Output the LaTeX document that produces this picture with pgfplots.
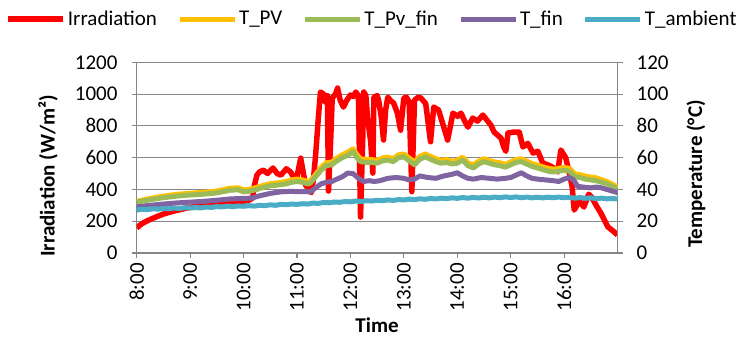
\documentclass[border=0pt]{standalone}
\usepackage{pgfplots}
\pgfplotsset{compat=1.18}
\usepackage{fontspec}
\setmainfont{Carlito}
\definecolor{cRed}{HTML}{FF0000}
\definecolor{cYel}{HTML}{FFC000}
\definecolor{cGrn}{HTML}{9BBB59}
\definecolor{cPur}{HTML}{8064A2}
\definecolor{cBlu}{HTML}{4BACC6}
\definecolor{gridgray}{HTML}{868686}
\newcommand\cf{\fontsize{21bp}{25bp}\selectfont}
\pgfplotsset{
  common/.style={
    scale only axis, width=480.8bp, height=190.7bp,
    xmin=8, xmax=17,
    axis line style={gridgray, line width=1.1bp},
    tick style={gridgray, line width=1.1bp},
    tick align=outside, major tick length=5bp,
    /pgf/number format/assume math mode=true,
    /pgf/number format/set thousands separator={},
    tick label style={font=\cf, text=black},
  }
}
\begin{document}
\begin{tikzpicture}
\useasboundingbox (-136.7bp,-84bp) rectangle (600.3bp,253bp);
\begin{axis}[common,
  axis y line*=left, axis x line*=bottom,
  ymin=0, ymax=1200, ytick={0,200,...,1200},
  ymajorgrids, grid style={gridgray, line width=1.1bp},
  xtick={8,9,...,16},
  xticklabels={8:00,9:00,10:00,11:00,12:00,13:00,14:00,15:00,16:00},
  xticklabel style={rotate=90, anchor=east, inner sep=0bp, xshift=-5bp},
  yticklabel style={anchor=east, inner sep=0bp, xshift=-14bp},
  xlabel={Time},
  every axis x label/.style={at={(axis description cs:0.5,-0.378)}, anchor=center, font=\cf\bfseries},
  ylabel={Irradiation (W/m²)},
  every axis y label/.style={at={(axis description cs:-0.1845,0.404)}, rotate=90, anchor=center, font=\cf\bfseries},
]
\addplot[cRed, line width=5.5bp, line join=round] coordinates {
(8.00,157)(8.05,172)(8.10,185)(8.20,203)(8.30,218)(8.40,232)(8.50,245)(8.60,255)(8.70,264)(8.80,272)(8.90,280)(9.00,287)(9.15,294)(9.30,300)(9.45,306)(9.60,312)(9.75,318)(9.90,322)(10.00,326)(10.10,332)(10.17,345)(10.20,420)(10.25,490)(10.30,510)(10.37,522)(10.45,500)(10.55,535)(10.63,500)(10.70,490)(10.80,530)(10.88,510)(10.95,470)(11.00,480)(11.07,597)(11.16,428)(11.22,400)(11.27,380)(11.31,470)(11.35,620)(11.40,850)(11.44,1013)(11.50,1000)(11.53,950)(11.57,990)(11.59,390)(11.63,700)(11.66,975)(11.72,1000)(11.76,1038)(11.81,960)(11.87,918)(11.93,960)(12.00,994)(12.06,985)(12.10,1013)(12.15,990)(12.19,226)(12.23,700)(12.25,1013)(12.29,990)(12.32,855)(12.38,700)(12.42,503)(12.44,981)(12.50,990)(12.53,960)(12.58,850)(12.62,711)(12.66,900)(12.70,980)(12.75,960)(12.81,943)(12.88,880)(12.94,773)(13.00,975)(13.05,980)(13.10,950)(13.15,386)(13.20,962)(13.27,980)(13.32,975)(13.41,940)(13.50,700)(13.56,918)(13.65,900)(13.75,790)(13.82,711)(13.92,880)(14.01,860)(14.07,880)(14.14,830)(14.20,792)(14.29,849)(14.38,830)(14.48,868)(14.57,830)(14.63,805)(14.69,761)(14.82,723)(14.87,667)(14.91,640)(14.95,755)(15.06,761)(15.16,761)(15.23,667)(15.32,690)(15.42,629)(15.51,640)(15.60,566)(15.71,553)(15.81,535)(15.88,510)(15.94,648)(16.03,600)(16.10,500)(16.15,420)(16.19,270)(16.24,300)(16.28,333)(16.37,289)(16.46,370)(16.52,350)(16.60,300)(16.69,250)(16.82,164)(16.94,132)(17.00,113)
};
\end{axis}
\begin{axis}[common,
  axis y line*=right, axis x line=none,
  ymin=0, ymax=120, ytick={0,20,...,120},
  yticklabel style={anchor=west, inner sep=0bp, xshift=14bp},
  ylabel={Temperature (°C)},
  every axis y label/.style={at={(axis description cs:1.163,0.414)}, rotate=90, anchor=center, font=\cf\bfseries},
  legend columns=-1,
  legend style={at={(axis description cs:0.4894,1.227)}, anchor=center, draw=none, fill=none,
    font=\cf, /tikz/every even column/.append style={column sep=18bp},
    nodes={inner sep=2bp}},
  legend image code/.code={\draw[#1] (0bp,0bp) -- (55bp,0bp);},
]
\addlegendimage{cRed, line width=5.5bp}
\addlegendentry{Irradiation}
\addplot[cYel, line width=5bp, line join=round] coordinates {
(8.00,32.5)(8.25,34.3)(8.5,35.8)(8.75,36.9)(9.0,37.6)(9.25,38.2)(9.5,39.0)(9.75,40.8)(9.9,41.0)(10.0,39.8)(10.1,40.0)(10.25,41.3)(10.4,42.8)(10.5,43.6)(10.65,44.2)(10.8,45.0)(10.9,46.0)(11.0,46.5)(11.1,46.0)(11.2,45.0)(11.25,45.5)(11.35,49.5)(11.45,53.8)(11.55,56.8)(11.65,57.2)(11.75,59.8)(11.85,61.8)(11.95,63.5)(12.05,65.5)(12.12,62.0)(12.19,59.3)(12.3,58.8)(12.4,58.8)(12.5,58.3)(12.6,59.8)(12.7,60.3)(12.8,59.3)(12.9,61.8)(13.0,62.3)(13.1,59.8)(13.2,57.3)(13.3,60.8)(13.4,62.3)(13.5,60.8)(13.6,59.3)(13.7,58.3)(13.8,58.8)(13.9,57.8)(14.0,58.3)(14.1,60.3)(14.2,56.8)(14.3,55.3)(14.4,57.8)(14.5,59.3)(14.6,58.3)(14.7,57.3)(14.8,56.8)(14.9,55.8)(15.0,57.3)(15.1,58.8)(15.2,59.3)(15.3,57.8)(15.4,56.3)(15.5,55.3)(15.6,54.3)(15.7,53.3)(15.8,52.8)(15.9,53.3)(16.0,53.8)(16.1,53.3)(16.2,49.8)(16.3,49.3)(16.4,48.3)(16.5,47.8)(16.6,47.3)(16.7,46.2)(16.8,45.0)(16.9,43.3)(17.0,41.5)
};
\addlegendentry{T\_PV}
\addplot[cGrn, line width=5bp, line join=round] coordinates {
(8.00,32.0)(8.25,33.5)(8.5,34.8)(8.75,35.8)(9.0,36.5)(9.25,37.0)(9.5,37.8)(9.75,39.5)(9.9,39.8)(10.0,38.5)(10.1,38.8)(10.25,40.0)(10.4,41.5)(10.5,42.3)(10.65,42.8)(10.8,43.5)(10.9,44.5)(11.0,45.0)(11.1,44.5)(11.2,43.5)(11.25,44.0)(11.35,48.0)(11.45,52.0)(11.55,55.0)(11.65,55.5)(11.75,58.0)(11.85,60.0)(11.95,61.5)(12.05,63.7)(12.12,60.0)(12.19,57.5)(12.3,57.0)(12.4,57.0)(12.5,56.5)(12.6,58.0)(12.7,58.5)(12.8,57.5)(12.9,60.0)(13.0,60.5)(13.1,58.0)(13.2,55.5)(13.3,59.0)(13.4,60.5)(13.5,59.0)(13.6,57.5)(13.7,56.5)(13.8,57.0)(13.9,56.0)(14.0,56.5)(14.1,58.5)(14.2,55.0)(14.3,53.5)(14.4,56.0)(14.5,57.5)(14.6,56.5)(14.7,55.5)(14.8,55.0)(14.9,54.0)(15.0,55.5)(15.1,57.0)(15.2,57.5)(15.3,56.0)(15.4,54.5)(15.5,53.5)(15.6,52.5)(15.7,51.5)(15.8,51.0)(15.9,51.5)(16.0,52.0)(16.1,51.5)(16.2,48.0)(16.3,47.5)(16.4,46.5)(16.5,46.0)(16.6,45.5)(16.7,44.5)(16.8,43.5)(16.9,42.0)(17.0,40.5)
};
\addlegendentry{T\_Pv\_fin}
\addplot[cPur, line width=5bp, line join=round] coordinates {
(8.0,29.0)(8.25,30.0)(8.5,30.8)(8.75,31.5)(9.0,32.0)(9.25,32.5)(9.5,33.2)(9.75,34.0)(10.0,34.4)(10.15,34.5)(10.3,36.0)(10.5,37.5)(10.7,38.5)(10.9,38.8)(11.0,38.6)(11.15,38.6)(11.25,38.5)(11.35,41.0)(11.45,43.5)(11.55,44.5)(11.65,45.0)(11.75,46.5)(11.85,48.0)(11.95,50.3)(12.05,50.0)(12.15,47.0)(12.25,45.0)(12.35,45.5)(12.45,45.0)(12.55,45.5)(12.7,47.0)(12.85,47.5)(13.0,47.0)(13.1,46.0)(13.2,46.5)(13.3,48.5)(13.45,47.5)(13.6,47.0)(13.75,48.5)(13.9,49.5)(14.0,50.5)(14.1,48.5)(14.2,47.0)(14.3,46.5)(14.45,47.5)(14.6,47.0)(14.75,46.5)(14.9,47.0)(15.0,47.5)(15.1,49.0)(15.2,50.5)(15.3,48.5)(15.4,47.0)(15.5,46.5)(15.65,46.0)(15.8,45.5)(15.9,45.0)(16.0,46.5)(16.1,47.5)(16.18,46.0)(16.25,42.0)(16.35,41.5)(16.5,41.0)(16.6,41.5)(16.7,41.0)(16.8,40.0)(16.9,39.0)(17.0,38.0)
};
\addlegendentry{T\_fin}
\addplot[cBlu, line width=5bp, line join=round] coordinates {
(8.0,27.0)(8.1,27.5)(8.2,27.3)(8.3,27.8)(8.4,27.6)(8.5,28.0)(8.6,27.8)(8.7,28.3)(8.8,28.0)(8.9,28.5)(9.0,28.3)(9.1,28.6)(9.2,28.4)(9.3,28.9)(9.4,28.7)(9.5,29.2)(9.6,29.0)(9.7,29.5)(9.8,29.2)(9.9,29.6)(10.0,29.4)(10.1,29.8)(10.2,29.5)(10.3,30.0)(10.4,29.8)(10.5,30.3)(10.6,30.0)(10.7,30.6)(10.8,30.4)(10.9,30.8)(11.0,30.6)(11.1,31.0)(11.2,30.8)(11.3,31.4)(11.4,31.2)(11.5,31.8)(11.6,31.6)(11.7,32.1)(11.8,31.9)(11.9,32.4)(12.0,32.2)(12.1,32.7)(12.2,32.4)(12.3,32.9)(12.4,32.7)(12.5,33.2)(12.6,32.9)(12.7,33.4)(12.8,33.1)(12.9,33.6)(13.0,33.4)(13.1,33.9)(13.2,33.6)(13.3,34.1)(13.4,33.8)(13.5,34.3)(13.6,34.0)(13.7,34.5)(13.8,34.2)(13.9,34.7)(14.0,34.4)(14.1,34.9)(14.2,34.5)(14.3,35.0)(14.4,34.6)(14.5,35.1)(14.6,34.7)(14.7,35.2)(14.8,34.8)(14.9,35.3)(15.0,34.9)(15.1,35.3)(15.2,34.8)(15.3,35.2)(15.4,34.7)(15.5,35.1)(15.6,34.7)(15.7,35.1)(15.8,34.8)(15.9,35.2)(16.0,34.8)(16.1,35.0)(16.2,34.5)(16.3,34.9)(16.4,34.4)(16.5,34.7)(16.6,34.3)(16.7,34.5)(16.8,34.1)(16.9,34.3)(17.0,34.0)
};
\addlegendentry{T\_ambient}
\end{axis}
\end{tikzpicture}
\end{document}
